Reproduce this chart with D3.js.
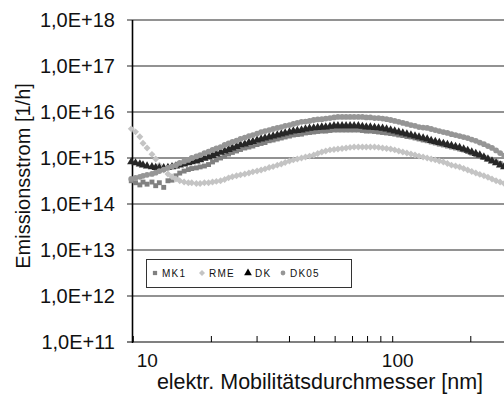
<!DOCTYPE html>
<html>
    <head>
        <meta charset="utf-8">
        <title>Emissionsstrom</title>
        <script src="https://d3js.org/d3.v7.min.js" charset="utf-8"></script>
        <style>
            body { margin: 0; background: #fff; }
            text { font-family: Arial, "Liberation Sans", sans-serif; }
        </style>
    </head>
    <body>
        <script>
            // SMPS channel midpoints [nm]
            var diameters = [9.82, 10.2, 10.6, 10.9, 11.3, 11.8, 12.2, 12.6, 13.1, 13.6,
                14.1, 14.6, 15.1, 15.7, 16.3, 16.8, 17.5, 18.1, 18.8, 19.5,
                20.2, 20.9, 21.7, 22.5, 23.3, 24.1, 25.0, 25.9, 26.9, 27.9,
                28.9, 30.0, 31.1, 32.2, 33.4, 34.6, 35.9, 37.2, 38.5, 40.0,
                41.4, 42.9, 44.5, 46.1, 47.8, 49.6, 51.4, 53.3, 55.2, 57.3,
                59.4, 61.5, 63.8, 66.1, 68.5, 71.0, 73.7, 76.4, 79.1, 82.0,
                85.1, 88.2, 91.4, 94.7, 98.2, 101.8, 105.5, 109.4, 113.4, 117.6,
                121.9, 126.3, 131.0, 135.8, 140.7, 145.9, 151.2, 156.8, 162.5, 168.5,
                174.7, 181.1, 187.7, 194.6, 201.7, 209.1, 216.7, 224.7, 232.9, 241.4,
                250.3, 259.5, 269.0];

            var mk1 = [3.2e14, 2.9e14, 2.6e14, 3.0e14, 2.7e14, 3.0e14, 2.5e14, 2.9e14, 2.3e14, 3.2e14,
                3.3e14, 4.1e14, 4.7e14, 5.2e14, 5.6e14, 5.9e14, 6.1e14, 6.4e14, 6.7e14, 7.2e14,
                8.2e14, 9.1e14, 1.0e15, 1.1e15, 1.22e15, 1.32e15, 1.42e15, 1.53e15, 1.65e15, 1.73e15,
                1.82e15, 1.96e15, 2.07e15, 2.17e15, 2.37e15, 2.46e15, 2.59e15, 2.72e15, 2.86e15, 3.0e15,
                3.16e15, 3.24e15, 3.3e15, 3.5e15, 3.58e15, 3.67e15, 3.77e15, 3.85e15, 3.85e15, 3.96e15,
                4.06e15, 4.06e15, 4.06e15, 4.06e15, 4.06e15, 4.06e15, 4.06e15, 3.96e15, 3.85e15, 3.85e15,
                3.77e15, 3.67e15, 3.58e15, 3.5e15, 3.4e15, 3.3e15, 3.16e15, 3.08e15, 2.93e15, 2.86e15,
                2.72e15, 2.59e15, 2.46e15, 2.37e15, 2.23e15, 2.12e15, 2.0e15, 1.92e15, 1.82e15, 1.73e15,
                1.65e15, 1.57e15, 1.5e15, 1.38e15, 1.28e15, 1.19e15, 1.1e15, 1.03e15, 9.5e14, 8.8e14,
                8.2e14, 7.6e14, 7.0e14];

            var rme = [4.3e15, 3.7e15, 2.9e15, 2.1e15, 1.65e15, 1.2e15, 9.5e14, 7.0e14, 5.5e14, 4.5e14,
                3.9e14, 3.5e14, 3.2e14, 3.0e14, 2.9e14, 2.9e14, 2.8e14, 2.8e14, 2.9e14, 2.9e14,
                3.0e14, 3.1e14, 3.2e14, 3.4e14, 3.7e14, 3.9e14, 4.1e14, 4.3e14, 4.5e14, 4.7e14,
                5.0e14, 5.2e14, 5.5e14, 5.8e14, 6.2e14, 6.5e14, 7.0e14, 7.4e14, 8.0e14, 8.6e14,
                9.1e14, 9.5e14, 1.0e15, 1.05e15, 1.1e15, 1.16e15, 1.25e15, 1.35e15, 1.42e15, 1.5e15,
                1.53e15, 1.57e15, 1.61e15, 1.65e15, 1.7e15, 1.73e15, 1.73e15, 1.73e15, 1.73e15, 1.73e15,
                1.73e15, 1.7e15, 1.65e15, 1.61e15, 1.57e15, 1.5e15, 1.42e15, 1.35e15, 1.28e15, 1.22e15,
                1.16e15, 1.1e15, 1.05e15, 1.0e15, 9.5e14, 9.1e14, 8.6e14, 8.2e14, 7.6e14, 7.0e14,
                6.7e14, 6.4e14, 5.9e14, 5.5e14, 5.1e14, 4.7e14, 4.4e14, 4.1e14, 3.8e14, 3.5e14,
                3.2e14, 3.0e14, 2.8e14];

            var dk = [8.2e14, 7.8e14, 7.4e14, 7.0e14, 6.7e14, 6.4e14, 6.2e14, 6.1e14, 6.1e14, 6.2e14,
                6.4e14, 6.7e14, 7.0e14, 7.4e14, 7.8e14, 8.2e14, 8.6e14, 9.1e14, 9.8e14, 1.05e15,
                1.13e15, 1.22e15, 1.32e15, 1.42e15, 1.53e15, 1.65e15, 1.78e15, 1.92e15, 2.0e15, 2.17e15,
                2.28e15, 2.46e15, 2.59e15, 2.72e15, 2.86e15, 3.0e15, 3.16e15, 3.3e15, 3.5e15, 3.67e15,
                3.85e15, 3.96e15, 4.06e15, 4.27e15, 4.4e15, 4.5e15, 4.6e15, 4.7e15, 4.7e15, 4.85e15,
                5.0e15, 5.0e15, 5.0e15, 5.0e15, 5.0e15, 5.0e15, 5.0e15, 4.85e15, 4.7e15, 4.7e15,
                4.6e15, 4.5e15, 4.4e15, 4.27e15, 4.06e15, 3.85e15, 3.67e15, 3.5e15, 3.3e15, 3.16e15,
                3.0e15, 2.86e15, 2.72e15, 2.59e15, 2.4e15, 2.28e15, 2.17e15, 2.07e15, 1.96e15, 1.87e15,
                1.78e15, 1.69e15, 1.57e15, 1.46e15, 1.35e15, 1.25e15, 1.16e15, 1.05e15, 9.5e14, 8.6e14,
                7.8e14, 7.0e14, 6.4e14];

            var dk05 = [3.5e14, 3.7e14, 3.9e14, 4.1e14, 4.3e14, 4.5e14, 4.8e14, 5.2e14, 5.6e14, 6.1e14,
                6.5e14, 7.0e14, 7.8e14, 8.4e14, 9.1e14, 1.0e15, 1.08e15, 1.16e15, 1.28e15, 1.38e15,
                1.5e15, 1.61e15, 1.73e15, 1.92e15, 2.07e15, 2.23e15, 2.4e15, 2.59e15, 2.79e15, 3.0e15,
                3.16e15, 3.4e15, 3.67e15, 3.85e15, 4.06e15, 4.27e15, 4.5e15, 4.7e15, 5.0e15, 5.2e15,
                5.5e15, 5.8e15, 6.1e15, 6.2e15, 6.4e15, 6.7e15, 6.9e15, 7.0e15, 7.2e15, 7.4e15,
                7.6e15, 7.8e15, 7.8e15, 7.8e15, 7.8e15, 7.8e15, 7.8e15, 7.8e15, 7.6e15, 7.6e15,
                7.4e15, 7.4e15, 7.2e15, 7.0e15, 6.7e15, 6.4e15, 6.1e15, 5.8e15, 5.5e15, 5.2e15,
                5.0e15, 4.7e15, 4.6e15, 4.5e15, 4.27e15, 4.06e15, 3.85e15, 3.67e15, 3.5e15, 3.3e15,
                3.16e15, 3.0e15, 2.86e15, 2.72e15, 2.52e15, 2.37e15, 2.17e15, 2.0e15, 1.82e15, 1.65e15,
                1.46e15, 1.28e15, 1.13e15];

            var seriesNames = ["MK1", "RME", "DK", "DK05"];
            var seriesValues = [mk1, rme, dk, dk05];
            var seriesColors = ["#808080", "#c4c4c4", "#262626", "#969696"];
            var seriesSymbols = [d3.symbolSquare, d3.symbolSquare, d3.symbolTriangle, d3.symbolCircle];

            var yTicks = [1e11, 1e12, 1e13, 1e14, 1e15, 1e16, 1e17, 1e18];
            var yTickLabels = ["1,0E+11", "1,0E+12", "1,0E+13", "1,0E+14", "1,0E+15", "1,0E+16", "1,0E+17", "1,0E+18"];
            var xTicks = [10, 20, 30, 40, 50, 60, 70, 80, 90, 100, 200];
            var xTickLabels = [10, 100];

            var W = 504, H = 394;
            var plotLeft = 132.5, plotTop = 20, plotBottom = 342;

            var svg = d3.select("body").append("svg")
                .attr("width", W)
                .attr("height", H);

            var x = d3.scaleLog().domain([10, 100]).range([133.3, 392.7]);
            var y = d3.scaleLog().domain([1e11, 1e18]).range([plotBottom, plotTop]);

            // gridlines + left ticks
            svg.selectAll(".grid").data(yTicks).enter()
                .append("line")
                    .attr("x1", plotLeft - 5.5)
                    .attr("x2", W)
                    .attr("y1", function(d) { return y(d); })
                    .attr("y2", function(d) { return y(d); })
                    .style("stroke", function(d) { return d == 1e11 ? "#808080" : "#6e6e6e"; })
                    .style("stroke-width", function(d) { return d == 1e11 ? 2 : 1.3; });

            svg.selectAll(".ylab").data(yTicks).enter()
                .append("text")
                    .attr("x", 115)
                    .attr("y", function(d) { return y(d); })
                    .attr("dy", "0.36em")
                    .attr("text-anchor", "end")
                    .style("font-size", "20px")
                    .style("fill", "#111")
                    .text(function(d, i) { return yTickLabels[i]; });

            // x ticks (inside)
            svg.selectAll(".xt").data(xTicks).enter()
                .append("line")
                    .attr("x1", function(d) { return x(d); })
                    .attr("x2", function(d) { return x(d); })
                    .attr("y1", plotBottom - 6)
                    .attr("y2", plotBottom)
                    .style("stroke", "#000")
                    .style("stroke-width", 1);

            svg.selectAll(".xlab").data(xTickLabels).enter()
                .append("text")
                    .attr("x", function(d) { return x(d); })
                    .attr("dx", function(d) { return d == 10 ? 14 : 5; })
                    .attr("y", 367)
                    .attr("text-anchor", "middle")
                    .style("font-size", "19px")
                    .style("fill", "#111")
                    .text(function(d) { return d; });

            // y axis line
            svg.append("line")
                .attr("x1", plotLeft).attr("x2", plotLeft)
                .attr("y1", plotTop).attr("y2", plotBottom + 1)
                .style("stroke", "#000")
                .style("stroke-width", 1.6);

            // series markers
            seriesValues.forEach(function(vals, s) {
                var sym = d3.symbol().type(seriesSymbols[s])
                    .size(s == 2 ? 30 : (s == 3 ? 26 : 24));
                svg.append("g").selectAll("path")
                    .data(vals)
                    .enter()
                    .append("path")
                        .attr("d", sym)
                        .attr("transform", function(d, i) {
                            var t = "translate(" + x(diameters[i]) + "," + y(d) + ")";
                            return s == 1 ? t + " rotate(45)" : t;
                        })
                        .style("fill", seriesColors[s]);
            });

            // legend
            var lg = svg.append("g");
            lg.append("rect")
                .attr("x", 146.5).attr("y", 259.5)
                .attr("width", 205).attr("height", 28)
                .style("fill", "#fff")
                .style("stroke", "#333")
                .style("stroke-width", 1);
            var legX = [155, 202, 248, 283];
            seriesNames.forEach(function(name, s) {
                var sym = d3.symbol().type(seriesSymbols[s]).size(s == 2 ? 26 : 18);
                lg.append("path")
                    .attr("d", sym)
                    .attr("transform", "translate(" + legX[s] + ",273)" + (s == 1 ? " rotate(45)" : ""))
                    .style("fill", s == 2 ? "#000" : seriesColors[s]);
                lg.append("text")
                    .attr("x", legX[s] + 7)
                    .attr("y", 276.5)
                    .style("font-size", "10px")
                    .style("letter-spacing", "1.2px")
                    .style("fill", "#111")
                    .text(name);
            });

            // axis titles
            svg.append("text")
                .attr("transform", "translate(30,176) rotate(-90)")
                .attr("text-anchor", "middle")
                .style("font-size", "20px")
                .style("fill", "#111")
                .text("Emissionsstrom [1/h]");

            svg.append("text")
                .attr("x", 320)
                .attr("y", 389)
                .attr("text-anchor", "middle")
                .style("font-size", "21.5px")
                .style("fill", "#111")
                .text("elektr. Mobilitätsdurchmesser [nm]");
        </script>
    </body>
</html>
